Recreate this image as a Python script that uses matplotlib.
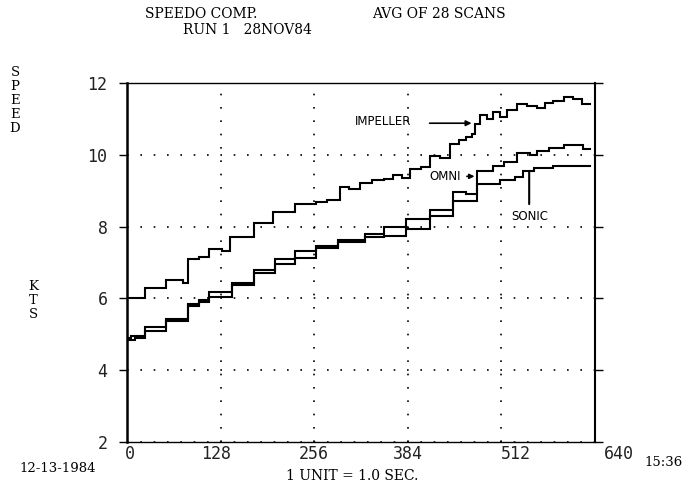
import matplotlib
matplotlib.use("Agg")
import matplotlib.pyplot as plt
from matplotlib.transforms import ScaledTranslation

# ---- data ----
imp_x = [0, 24, 54, 76, 83, 99, 112, 130, 141, 160, 173, 200, 230, 258, 274, 291, 304, 319, 335, 351,
         364, 376, 387, 402, 414, 428, 442, 454, 464, 472, 476, 483, 492, 501, 510, 520, 534, 547, 561, 572,
         583, 597, 610, 622, 633]
imp_y = [6.0, 6.28, 6.52, 6.42, 7.1, 7.15, 7.37, 7.33, 7.7, 7.72, 8.1, 8.4, 8.62, 8.68, 8.75, 9.1, 9.05, 9.22, 9.3, 9.32,
         9.45, 9.35, 9.6, 9.65, 9.97, 9.92, 10.3, 10.4, 10.5, 10.57, 10.85, 11.1, 11.0, 11.2, 11.05, 11.25, 11.42, 11.35, 11.3, 11.45,
         11.5, 11.62, 11.55, 11.42, 11.42]

omni_x = [0, 6, 24, 54, 83, 99, 112, 144, 173, 202, 230, 259, 289, 325, 351, 381, 414, 446, 464, 479,
          500, 515, 534, 551, 561, 577, 597, 623, 633]
omni_y = [4.9, 4.95, 5.2, 5.42, 5.85, 5.95, 6.18, 6.42, 6.78, 7.1, 7.32, 7.45, 7.62, 7.8, 8.0, 8.2, 8.45, 8.95, 8.9, 9.56,
          9.7, 9.8, 10.05, 10.0, 10.1, 10.2, 10.27, 10.15, 10.15]

sonic_x = [0, 11, 24, 54, 83, 99, 112, 144, 173, 202, 230, 259, 289, 325, 351, 381, 414, 446, 479, 510,
           531, 541, 556, 582, 602, 633]
sonic_y = [4.85, 4.9, 5.1, 5.38, 5.8, 5.9, 6.05, 6.38, 6.7, 6.95, 7.12, 7.4, 7.58, 7.7, 7.75, 7.92, 8.3, 8.72, 9.2, 9.3,
           9.37, 9.55, 9.62, 9.68, 9.7, 9.7]

x_ticks = [0, 128, 256, 384, 512, 640]
x_tick_labels = ["0", "128", "256", "384", "512", "640"]
y_ticks = [2, 4, 6, 8, 10, 12]
y_tick_labels = ["2", "4", "6", "8", "10", "12"]

W, H = 700, 492
fig = plt.figure(figsize=(7.0, 4.92), dpi=100)
fig.patch.set_facecolor("white")
ax = fig.add_axes([127 / W, 1 - 442 / H, (595 - 127) / W, (442 - 83) / H])

for xs, ys in ((imp_x, imp_y), (omni_x, omni_y), (sonic_x, sonic_y)):
    ax.step(xs, ys, where="post", color="black", lw=1.5, solid_joinstyle="miter")

ax.set_xlim(0, 640)
ax.set_ylim(2, 12)
ax.set_xticks(x_ticks)
ax.set_xticklabels(x_tick_labels)
ax.set_yticks(y_ticks)
ax.set_yticklabels(y_tick_labels)

ax.grid(True, color="black", lw=1.2, linestyle=(0, (1, 7)))
ax.set_axisbelow(True)

for s in ax.spines.values():
    s.set_color("black")
ax.spines["left"].set_linewidth(1.8)
ax.spines["right"].set_linewidth(1.5)
ax.spines["top"].set_linewidth(1.0)
ax.spines["bottom"].set_linewidth(1.0)

ax.tick_params(axis="y", direction="out", length=6, width=1, left=True, right=True,
               labelsize=12, pad=8)
ax.tick_params(axis="x", direction="out", length=0, labelsize=12, pad=2)
for lab in ax.get_xticklabels() + ax.get_yticklabels():
    lab.set_fontfamily("DejaVu Sans Mono")
    lab.set_color("#222222")

x_offsets = [3, -5, 0, 0, 14, 24]
for lab, dx in zip(ax.get_xticklabels(), x_offsets):
    lab.set_transform(lab.get_transform() + ScaledTranslation(dx / 100, 0, fig.dpi_scale_trans))

# annotations
ann_font = dict(family="DejaVu Sans", fontsize=8.5, color="black")
ax.text(350, 10.92, "IMPELLER", ha="center", va="center", **ann_font)
ax.annotate("", xy=(475, 10.88), xytext=(410, 10.88),
            arrowprops=dict(arrowstyle="-|>", color="black", lw=1.2, mutation_scale=8))
ax.text(435, 9.4, "OMNI", ha="center", va="center", **ann_font)
ax.annotate("", xy=(479, 9.4), xytext=(461, 9.4),
            arrowprops=dict(arrowstyle="-|>", color="black", lw=1.2, mutation_scale=7))
ax.text(551, 8.29, "SONIC", ha="center", va="center", **ann_font)
ax.annotate("", xy=(550, 9.6), xytext=(550, 8.55),
            arrowprops=dict(arrowstyle="-", color="black", lw=1.5))

# figure texts
serif = dict(family="DejaVu Serif", color="black")
def ftext(px, py, s, size=10, ha="left", va="center", **kw):
    fig.text(px / W, 1 - py / H, s, ha=ha, va=va, fontsize=size, **serif, **kw)

ftext(145, 14, "SPEEDO COMP.", 10)
ftext(183, 30, "RUN 1   28NOV84", 10)
ftext(372, 14, "AVG OF 28 SCANS", 10)
ftext(15, 101, "S\nP\nE\nE\nD", 9.5, ha="center", linespacing=1.1)
ftext(33, 300, "K\nT\nS", 9.5, ha="center", linespacing=1.1)
ftext(58, 468, "12-13-1984", 9.5, ha="center")
ftext(352, 476, "1 UNIT = 1.0 SEC.", 10, ha="center")
ftext(664, 462, "15:36", 9.5, ha="center")

fig.savefig("out.png", dpi=100, facecolor="white")
